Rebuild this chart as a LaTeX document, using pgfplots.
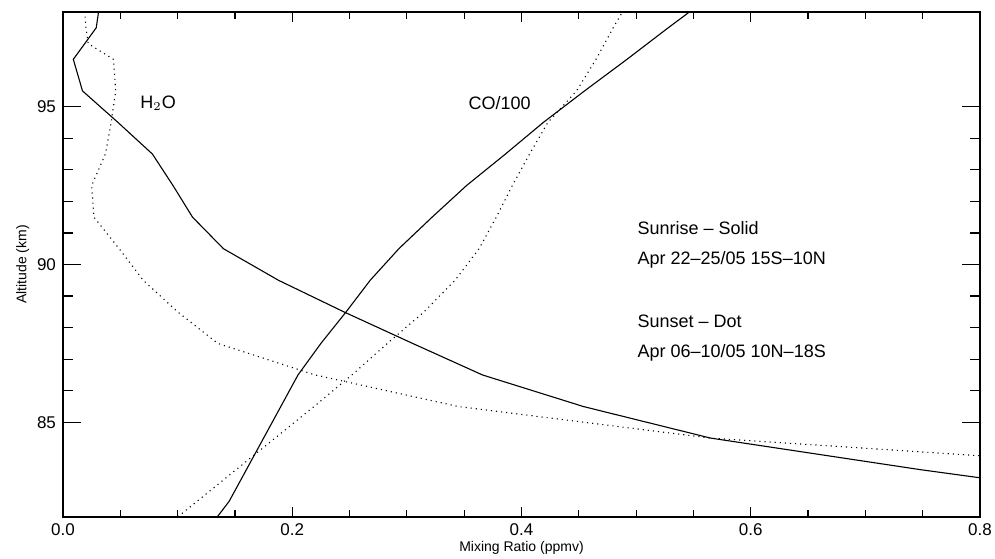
\documentclass[border=0pt]{standalone}
\usepackage{fontspec}
\setmainfont{Liberation Sans}
\usepackage{pgfplots}
\pgfplotsset{compat=1.18}
\usetikzlibrary{calc}

\begin{document}
\begin{tikzpicture}
\begin{axis}[
    scale only axis,
    width=458.5pt, height=252.5pt,
    xmin=0, xmax=0.8, ymin=82, ymax=98,
    xtick={0,0.2,0.4,0.6,0.8},
    ytick={85,90,95},
    minor x tick num=3,
    minor y tick num=4,
    tick align=inside,
    axis line style={line width=0.6pt},
    tick style={line width=0.6pt, black},
    major tick length=9pt,
    minor tick length=5pt,
    xtick style={/pgfplots/major tick length=5pt, /pgfplots/minor tick length=3.5pt},
    xticklabel style={/pgf/number format/.cd, fixed, fixed zerofill, precision=1},
    /pgf/number format/assume math mode=true,
    ticklabel style={font=\fontsize{8.5}{10}\selectfont},
    xlabel={Mixing Ratio (ppmv)},
    ylabel={Altitude (km)},
    label style={font=\fontsize{7}{8}\selectfont},
    xlabel style={yshift=4pt},
    ylabel style={yshift=-3pt},
    clip=true,
]
% H2O sunrise (solid)
\addplot[black, line width=0.55pt] coordinates {
 (0.033,98.5) (0.029,97.5) (0.009,96.5) (0.017,95.5) (0.048,94.5) (0.078,93.5)
 (0.096,92.5) (0.113,91.5) (0.140,90.5) (0.188,89.5) (0.245,88.5) (0.305,87.5)
 (0.366,86.5) (0.454,85.5) (0.565,84.5) (0.748,83.5) (0.950,82.5)
};
% H2O sunset (dotted)
\addplot[black, line width=0.55pt, dash pattern=on 0.55pt off 2pt] coordinates {
 (0.018,98.5) (0.020,97.5) (0.022,97.0) (0.044,96.5) (0.046,95.5) (0.042,94.5)
 (0.037,93.5) (0.025,92.5) (0.027,91.5) (0.049,90.5) (0.070,89.5) (0.100,88.5)
 (0.135,87.5) (0.220,86.5) (0.345,85.5) (0.565,84.5) (0.985,83.5)
};
% CO/100 sunrise (solid)
\addplot[black, line width=0.55pt] coordinates {
 (0.124,81.5) (0.145,82.5) (0.160,83.5) (0.175,84.5) (0.190,85.5) (0.205,86.5)
 (0.225,87.5) (0.247,88.5) (0.268,89.5) (0.293,90.5) (0.322,91.5) (0.352,92.5)
 (0.386,93.5) (0.419,94.5) (0.455,95.5) (0.492,96.5) (0.528,97.5) (0.565,98.5)
};
% CO/100 sunset (dotted)
\addplot[black, line width=0.55pt, dash pattern=on 0.55pt off 2pt] coordinates {
 (0.083,81.5) (0.117,82.5) (0.151,83.5) (0.185,84.5) (0.219,85.5) (0.252,86.5)
 (0.283,87.5) (0.315,88.5) (0.342,89.5) (0.363,90.5) (0.378,91.5) (0.392,92.5)
 (0.407,93.5) (0.423,94.5) (0.448,95.5) (0.465,96.5) (0.480,97.5) (0.496,98.5)
};
\node[font=\fontsize{9}{10}\selectfont] at (axis cs:0.083,95.1) {H$_2$O};
\node[font=\fontsize{9}{10}\selectfont] at (axis cs:0.381,95.1) {CO/100};
\begin{scope}[every node/.style={anchor=west, inner sep=0pt, font=\fontsize{9}{10}\selectfont}]
\node at (axis cs:0.501,91.17) {Sunrise -- Solid};
\node at (axis cs:0.501,90.16) {Apr 22--25/05 15S--10N};
\node at (axis cs:0.501,88.19) {Sunset -- Dot};
\node at (axis cs:0.501,87.21) {Apr 06--10/05 10N--18S};
\end{scope}
\end{axis}
\pgfresetboundingbox
\path ($(current axis.south west)+(-31.5pt,-20.5pt)$) rectangle ($(current axis.north east)+(7.5pt,6pt)$);
\end{tikzpicture}
\end{document}
